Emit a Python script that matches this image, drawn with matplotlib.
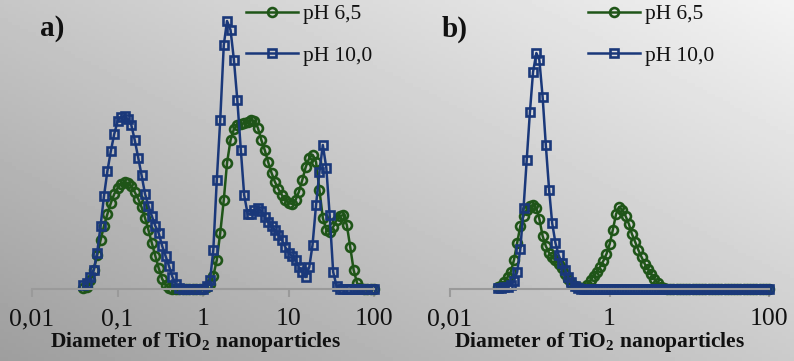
import numpy as np
import matplotlib
matplotlib.use("Agg")
import matplotlib.pyplot as plt
from matplotlib.ticker import NullLocator

plt.rcParams['font.family'] = ['Liberation Serif', 'DejaVu Serif']
plt.rcParams['mathtext.fontset'] = 'custom'
plt.rcParams['mathtext.rm'] = 'Liberation Serif'
plt.rcParams['mathtext.bf'] = 'Liberation Serif:bold'

# particle diameter bins (um), shared by all curves
diam = [0.0400, 0.0439, 0.0481, 0.0527, 0.0578, 0.0634, 0.0695, 0.0762, 0.0836, 0.0916,
        0.1005, 0.110, 0.121, 0.132, 0.145, 0.159, 0.175, 0.191, 0.210, 0.230,
        0.252, 0.277, 0.303, 0.333, 0.365, 0.400, 0.439, 0.481, 0.527, 0.578,
        0.634, 0.695, 0.762, 0.836, 0.916, 1.005, 1.10, 1.21, 1.32, 1.45,
        1.59, 1.75, 1.91, 2.10, 2.30, 2.52, 2.77, 3.03, 3.33, 3.65,
        4.00, 4.39, 4.81, 5.27, 5.78, 6.34, 6.95, 7.62, 8.36, 9.16,
        10.05, 11.0, 12.1, 13.2, 14.5, 15.9, 17.5, 19.1, 21.0, 23.0,
        25.2, 27.7, 30.3, 33.3, 36.5, 40.0, 43.9, 48.1, 52.7, 57.8,
        63.4, 69.5, 76.2, 83.6, 91.6, 100.0]

# panel a)
a_ph65 = [0.05, 0.10, 0.45, 0.95, 1.70, 2.45, 3.15, 3.75, 4.30, 4.75,
          5.05, 5.25, 5.35, 5.30, 5.15, 4.85, 4.50, 4.10, 3.55, 2.95,
          2.30, 1.65, 1.05, 0.50, 0.20, 0.05, 0, 0, 0, 0,
          0, 0, 0, 0, 0, 0, 0.10, 0.25, 0.65, 1.45,
          2.80, 4.45, 6.30, 7.45, 8.00, 8.20, 8.25, 8.30, 8.35, 8.45,
          8.40, 8.05, 7.45, 6.95, 6.35, 5.80, 5.35, 5.00, 4.70, 4.45,
          4.30, 4.25, 4.45, 4.85, 5.45, 6.10, 6.55, 6.70, 6.35, 4.95,
          3.55, 2.95, 2.85, 3.10, 3.45, 3.65, 3.70, 3.20, 2.10, 0.95,
          0.30, 0.05, 0, 0, 0, 0]
a_ph10 = [0.20, 0.30, 0.60, 0.95, 1.80, 3.15, 4.65, 5.90, 6.90, 7.75,
          8.40, 8.60, 8.65, 8.50, 8.20, 7.45, 6.55, 5.70, 4.75, 4.15,
          3.65, 3.15, 2.80, 2.15, 1.65, 1.15, 0.60, 0.25, 0.05, 0,
          0, 0, 0, 0, 0, 0, 0.15, 0.45, 1.95, 5.45,
          8.45, 12.20, 13.40, 12.95, 11.45, 9.45, 6.95, 4.70, 3.75, 3.75,
          3.95, 4.05, 3.90, 3.60, 3.35, 3.15, 2.95, 2.70, 2.45, 2.10,
          1.80, 1.65, 1.45, 1.10, 0.85, 0.60, 1.10, 2.20, 4.20, 5.85,
          7.20, 6.05, 3.70, 0.85, 0.15, 0, 0, 0, 0, 0,
          0, 0, 0, 0, 0, 0]

# panel b)
b_ph65 = [0.10, 0.15, 0.35, 0.60, 0.85, 1.45, 2.30, 3.15, 3.65, 3.95,
          4.15, 4.20, 4.05, 3.50, 2.65, 2.15, 1.80, 1.60, 1.45, 1.25,
          1.05, 0.75, 0.50, 0.30, 0.15, 0.10, 0.05, 0.05, 0.20, 0.45,
          0.65, 0.85, 1.10, 1.40, 1.75, 2.25, 2.95, 3.75, 4.10, 3.95,
          3.65, 3.25, 2.75, 2.35, 1.95, 1.60, 1.25, 1.00, 0.75, 0.50,
          0.30, 0.10, 0.05, 0, 0, 0, 0, 0, 0, 0,
          0, 0, 0, 0, 0, 0, 0, 0, 0, 0,
          0, 0, 0, 0, 0, 0, 0, 0, 0, 0,
          0, 0, 0, 0, 0, 0]
b_ph10 = [0.05, 0.05, 0.10, 0.10, 0.20, 0.40, 0.85, 2.00, 4.05, 6.45,
          8.85, 10.85, 11.80, 11.45, 9.60, 7.20, 4.95, 3.30, 2.30, 1.70,
          1.30, 0.95, 0.60, 0.35, 0.15, 0.05, 0, 0, 0, 0,
          0, 0, 0, 0, 0, 0, 0, 0, 0, 0,
          0, 0, 0, 0, 0, 0, 0, 0, 0, 0,
          0, 0, 0, 0, 0, 0, 0, 0, 0, 0,
          0, 0, 0, 0, 0, 0, 0, 0, 0, 0,
          0, 0, 0, 0, 0, 0, 0, 0, 0, 0,
          0, 0, 0, 0, 0, 0]

green = '#1f5518'
blue = '#1a387a'
W, H = 794, 361

fig = plt.figure(figsize=(W / 100, H / 100), dpi=100)

# grey diagonal gradient background
bg = fig.add_axes([0, 0, 1, 1], zorder=-10)
gx, gy = np.meshgrid(np.linspace(0, 1, 200), np.linspace(0, 1, 100))
shade = 158 + 45 * gx + 40 * gy
bg.imshow(shade, origin='lower', cmap='gray', vmin=0, vmax=255,
          extent=[0, 1, 0, 1], aspect='auto')
bg.axis('off')


def panel(left, right, y65, y10, ticks, ticklabels, tag, tag_x, leg_x, lab_x):
    ax = fig.add_axes([left / W, (H - 289) / H, (right - left) / W, (289 - 10) / H])
    ax.patch.set_alpha(0)
    ax.plot(diam, y65, color=green, lw=1.8, marker='o', ms=6.4, mfc='none',
            mec=green, mew=1.9, clip_on=False, label='pH 6,5')
    ax.plot(diam, y10, color=blue, lw=1.8, marker='s', ms=6.2, mfc='none',
            mec=blue, mew=1.9, clip_on=False, label='pH 10,0')
    ax.set_xscale('log')
    ax.set_xlim(0.01, 100)
    ax.set_ylim(0, 13.95)
    ax.set_xticks(ticks)
    ax.set_xticklabels(ticklabels)
    ax.xaxis.set_minor_locator(NullLocator())
    ax.set_yticks([])
    for s in ['left', 'right', 'top']:
        ax.spines[s].set_visible(False)
    ax.spines['bottom'].set_color('#9a9a9a')
    ax.spines['bottom'].set_linewidth(1.5)
    ax.tick_params(axis='x', length=6, width=1.5, color='#9a9a9a',
                   labelsize=18.5, pad=8, labelcolor='#111111')
    ax.set_xlabel('Diameter of TiO$_\\mathbf{2}$ nanoparticles',
                  fontsize=15.5, fontweight='bold', labelpad=0, color='#111111')
    ax.xaxis.label.set_x(lab_x)
    fig.text(tag_x / W, 1 - 29 / H, tag, fontsize=21, fontweight='bold',
             va='center', ha='left', color='#111111')
    ax.legend(loc='upper left', bbox_to_anchor=(leg_x / W, 1 - 4 / H),
              bbox_transform=fig.transFigure, frameon=False, fontsize=15.5,
              handlelength=2.4, handletextpad=0.25, labelspacing=1.0,
              borderpad=0, borderaxespad=0, labelcolor='#111111')
    return ax


panel(32, 374, a_ph65, a_ph10, [0.01, 0.1, 1, 10, 100],
      ['0,01', '0,1', '1', '10', '100'], 'a)', 40, 246, 0.477)
panel(450, 769, b_ph65, b_ph10, [0.01, 1, 100],
      ['0,01', '1', '100'], 'b)', 442, 588, 0.47)

fig.savefig('out.png', dpi=100)
